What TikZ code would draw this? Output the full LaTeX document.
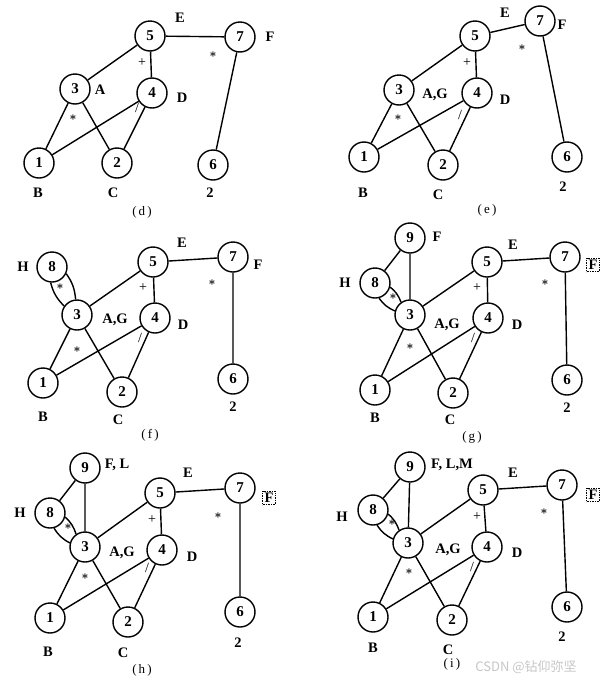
\documentclass[tikz,border=0pt]{standalone}
\usepackage{fontspec}
\setmainfont{Liberation Serif}
\newfontfamily\cjk{Noto Sans CJK SC}
\usetikzlibrary{positioning}

\begin{document}
\begin{tikzpicture}[x=1pt, y=-1pt, line width=1.4pt,
	vert/.style={draw, circle, minimum size=30pt, inner sep=0pt, font=\fontsize{15}{15}\selectfont\bfseries},
	lab/.style={font=\fontsize{14.5}{16}\selectfont\bfseries, inner sep=0pt},
	boxlab/.style={lab, draw, densely dotted, line width=0.7pt, inner sep=2pt},
	sym/.style={font=\fontsize{14}{14}\selectfont, inner sep=0pt},
	ast/.style={font=\fontsize{12}{12}\selectfont\boldmath, inner sep=0pt},
	subcap/.style={font=\fontsize{13}{13}\selectfont, inner sep=0pt}]
	
	\useasboundingbox (0,0) rectangle (610,686);
	
	% (d)
	\node[vert] (d5) at (150,36) {5};
	\node[vert] (d7) at (240,37) {7};
	\node[vert] (d3) at (75,89) {3};
	\node[vert] (d4) at (152,93) {4};
	\node[vert] (d1) at (39,163) {1};
	\node[vert] (d2) at (117,163) {2};
	\node[vert] (d6) at (213,165) {6};
	\draw (d5) -- (d7) (d5) -- (d3) (d5) -- (d4) (d3) -- (d1) (d3) -- (d2)
		(d4) -- (d1) (d4) -- (d2) (d7) -- (d6);
	\node[lab] (dE) at (180,18) {E};
	\node[lab] (dF) at (270,37) {F};
	\node[lab] (dA) at (100,90) {A};
	\node[lab] (dD) at (182,98) {D};
	\node[lab] (dB) at (38,193) {B};
	\node[lab] (dC) at (113,193) {C};
	\node[lab] (dn) at (210,193) {2};
	\node[sym] (dp) at (142,63) {+};
	\node[ast] (ds1) at (213,55) {$\ast$};
	\node[ast] (ds2) at (73,118) {$\ast$};
	\node[sym] (dl) at (137,108) {/};
	\node[subcap] (dcap) at (142,212) {(\,d\,)};
	
	% (e)
	\node[vert] (e5) at (475,36) {5};
	\node[vert] (e7) at (540,21) {7};
	\node[vert] (e3) at (399,90) {3};
	\node[vert] (e4) at (477,93) {4};
	\node[vert] (e1) at (364,157) {1};
	\node[vert] (e2) at (443,165) {2};
	\node[vert] (e6) at (567,157) {6};
	\draw (e5) -- (e7) (e5) -- (e3) (e5) -- (e4) (e3) -- (e1) (e3) -- (e2)
		(e4) -- (e1) (e4) -- (e2) (e7) -- (e6);
	\node[lab] (eE) at (505,13) {E};
	\node[lab] (eF) at (562,25) {F};
	\node[lab] (eA) at (435,95) {A,G};
	\node[lab] (eD) at (505,100) {D};
	\node[lab] (eB) at (363,193) {B};
	\node[lab] (eC) at (438,195) {C};
	\node[lab] (en) at (563,187) {2};
	\node[sym] (ep) at (467,63) {+};
	\node[ast] (es1) at (522,48) {$\ast$};
	\node[ast] (es2) at (398,118) {$\ast$};
	\node[sym] (el) at (460,115) {/};
	\node[subcap] (ecap) at (487,210) {(\,e\,)};
	
	% (f)
	\node[vert] (f8) at (52,267) {8};
	\node[vert] (f5) at (153,262) {5};
	\node[vert] (f7) at (233,257) {7};
	\node[vert] (f3) at (77,315) {3};
	\node[vert] (f4) at (155,318) {4};
	\node[vert] (f1) at (43,383) {1};
	\node[vert] (f2) at (122,392) {2};
	\node[vert] (f6) at (233,379) {6};
	\draw (f5) -- (f7) (f5) -- (f3) (f5) -- (f4) (f3) -- (f1) (f3) -- (f2)
		(f4) -- (f1) (f4) -- (f2) (f7) -- (f6);
	\draw (f8.-95) to[bend right=15] (f3.145) (f8.-25) to[bend left=15] (f3.95);
	\node[lab] (fH) at (23,267) {H};
	\node[lab] (fE) at (182,243) {E};
	\node[lab] (fF) at (258,265) {F};
	\node[lab] (fA) at (115,320) {A,G};
	\node[lab] (fD) at (183,325) {D};
	\node[lab] (fB) at (43,417) {B};
	\node[lab] (fC) at (118,420) {C};
	\node[lab] (fn) at (233,407) {2};
	\node[ast] (fs0) at (60,287) {$\ast$};
	\node[sym] (fp) at (143,288) {+};
	\node[ast] (fs1) at (212,283) {$\ast$};
	\node[ast] (fs2) at (77,350) {$\ast$};
	\node[sym] (fl) at (140,338) {/};
	\node[subcap] (fcap) at (150,435) {(\,f\,)};
	
	% (g)
	\node[vert] (g9) at (410,238) {9};
	\node[vert] (g8) at (375,283) {8};
	\node[vert] (g3) at (410,315) {3};
	\node[vert] (g5) at (487,262) {5};
	\node[vert] (g7) at (565,257) {7};
	\node[vert] (g4) at (488,318) {4};
	\node[vert] (g1) at (375,390) {1};
	\node[vert] (g2) at (453,393) {2};
	\node[vert] (g6) at (567,380) {6};
	\draw (g5) -- (g7) (g5) -- (g3) (g5) -- (g4) (g3) -- (g1) (g3) -- (g2)
		(g4) -- (g1) (g4) -- (g2) (g7) -- (g6) (g9) -- (g8) (g9) -- (g3);
	\draw (g8.-75) to[bend right=15] (g3.165) (g8.-15) to[bend left=15] (g3.125);
	\node[lab] (gF9) at (437,237) {F};
	\node[lab] (gH) at (345,283) {H};
	\node[lab] (gE) at (513,245) {E};
	\node[boxlab] (gF) at (593,265) {F};
	\node[lab] (gA) at (447,325) {A,G};
	\node[lab] (gD) at (517,325) {D};
	\node[lab] (gB) at (375,418) {B};
	\node[lab] (gC) at (450,420) {C};
	\node[lab] (gn) at (567,408) {2};
	\node[ast] (gs0) at (393,297) {$\ast$};
	\node[sym] (gp) at (477,288) {+};
	\node[ast] (gs1) at (545,283) {$\ast$};
	\node[ast] (gs2) at (410,347) {$\ast$};
	\node[sym] (gl) at (473,338) {/};
	\node[subcap] (gcap) at (472,437) {(\,g\,)};
	
	% (h)
	\node[vert] (h9) at (85,468) {9};
	\node[vert] (h8) at (50,513) {8};
	\node[vert] (h3) at (85,547) {3};
	\node[vert] (h5) at (160,493) {5};
	\node[vert] (h7) at (240,488) {7};
	\node[vert] (h4) at (162,550) {4};
	\node[vert] (h1) at (50,618) {1};
	\node[vert] (h2) at (128,622) {2};
	\node[vert] (h6) at (240,612) {6};
	\draw (h5) -- (h7) (h5) -- (h3) (h5) -- (h4) (h3) -- (h1) (h3) -- (h2)
		(h4) -- (h1) (h4) -- (h2) (h7) -- (h6) (h9) -- (h8) (h9) -- (h3);
	\draw (h8.-75) to[bend right=15] (h3.165) (h8.-15) to[bend left=15] (h3.125);
	\node[lab] (hF9) at (117,465) {F, L};
	\node[lab] (hH) at (20,513) {H};
	\node[lab] (hE) at (188,473) {E};
	\node[boxlab] (hF) at (269,498) {F};
	\node[lab] (hA) at (122,553) {A,G};
	\node[lab] (hD) at (192,557) {D};
	\node[lab] (hB) at (48,652) {B};
	\node[lab] (hC) at (123,653) {C};
	\node[lab] (hn) at (238,643) {2};
	\node[ast] (hs0) at (68,527) {$\ast$};
	\node[sym] (hp) at (152,520) {+};
	\node[ast] (hs1) at (218,516) {$\ast$};
	\node[ast] (hs2) at (85,577) {$\ast$};
	\node[sym] (hl) at (147,568) {/};
	\node[subcap] (hcap) at (142,670) {(\,h\,)};
	
	% (i)
	\node[vert] (i9) at (410,467) {9};
	\node[vert] (i8) at (373,510) {8};
	\node[vert] (i3) at (408,543) {3};
	\node[vert] (i5) at (483,490) {5};
	\node[vert] (i7) at (562,485) {7};
	\node[vert] (i4) at (487,547) {4};
	\node[vert] (i1) at (373,617) {1};
	\node[vert] (i2) at (452,620) {2};
	\node[vert] (i6) at (567,607) {6};
	\draw (i5) -- (i7) (i5) -- (i3) (i5) -- (i4) (i3) -- (i1) (i3) -- (i2)
		(i4) -- (i1) (i4) -- (i2) (i7) -- (i6) (i9) -- (i8) (i9) -- (i3);
	\draw (i8.-75) to[bend right=15] (i3.165) (i8.-15) to[bend left=15] (i3.125);
	\node[lab] (iF9) at (452,465) {F, L,M};
	\node[lab] (iH) at (342,517) {H};
	\node[lab] (iE) at (513,473) {E};
	\node[boxlab] (iF) at (593,495) {F};
	\node[lab] (iA) at (448,550) {A,G};
	\node[lab] (iD) at (517,553) {D};
	\node[lab] (iB) at (373,648) {B};
	\node[lab] (iC) at (448,650) {C};
	\node[lab] (in) at (562,637) {2};
	\node[ast] (is0) at (392,523) {$\ast$};
	\node[sym] (ip) at (477,517) {+};
	\node[ast] (is1) at (544,512) {$\ast$};
	\node[ast] (is2) at (409,572) {$\ast$};
	\node[sym] (il) at (472,567) {/};
	\node[subcap] (icap) at (452,664) {(\,i\,)};
	
	\node[font=\cjk\fontsize{13}{13}\selectfont, text=gray!45, inner sep=0pt] (mark) at (526,667) {CSDN @钻仰弥坚};
	
\end{tikzpicture}
\end{document}
